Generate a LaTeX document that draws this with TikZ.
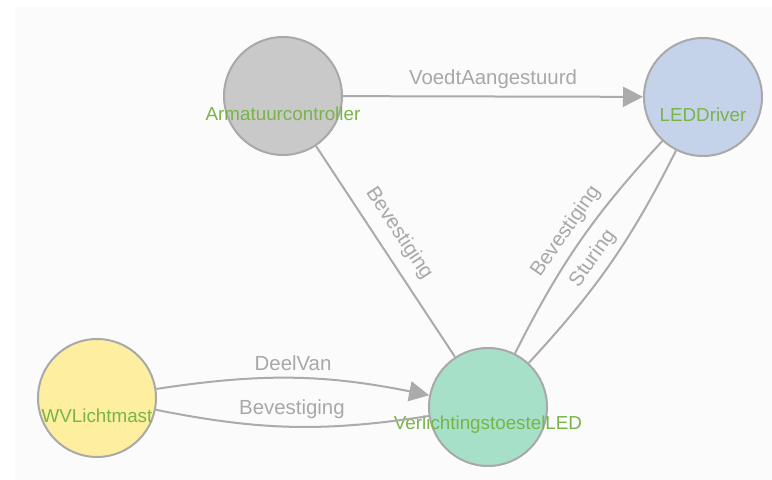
\documentclass[tikz,border=0pt]{standalone}
\usepackage{fontspec}
\setmainfont{Liberation Sans}
\usetikzlibrary{arrows.meta}

\definecolor{panelbg}{HTML}{FBFBFB}
\definecolor{entityline}{HTML}{A9A9A9}
\definecolor{entitytext}{HTML}{79B449}
\definecolor{relline}{HTML}{ABABAB}
\definecolor{reltext}{HTML}{A8A8A8}
\definecolor{armfill}{HTML}{C9C9C9}
\definecolor{ledfill}{HTML}{C5D3EA}
\definecolor{mastfill}{HTML}{FDEEA0}
\definecolor{toestelfill}{HTML}{A6E0C8}

\tikzstyle{entity}=[circle,
    line width=1pt,
    draw=entityline,
    minimum size=59pt,
    inner sep=0pt]
\tikzstyle{entitytext}=[text=entitytext,
    font=\fontsize{9.4}{11}\selectfont,
    yshift=-9pt]
\tikzstyle{relation}=[draw=relline, line width=1pt]
\tikzstyle{reltext}=[text=reltext, font=\fontsize{10.2}{12}\selectfont]
\tikzstyle{head}=[-{Triangle[length=10pt,width=10pt]}]

\begin{document}
\begin{tikzpicture}[x=0.5pt,y=-0.5pt]
    % background panel
    \fill[white] (0,0) rectangle (772,480);
    \fill[panelbg] (15,7) rectangle (772,480);

    % entities
    \node (arm) [entity, fill=armfill,
        label={[entitytext]center:Armatuurcontroller}] at (283,96) {};
    \node (led) [entity, fill=ledfill,
        label={[entitytext]center:LEDDriver}] at (703,97) {};
    \node (mast) [entity, fill=mastfill,
        label={[entitytext]center:WVLichtmast}] at (97,398) {};
    \node (toestel) [entity, fill=toestelfill,
        label={[entitytext]center:VerlichtingstoestelLED}] at (488,407) {};

    % relations
    \draw [relation,head] (arm) -- node[reltext,above] {VoedtAangestuurd} (led);
    \draw [relation] (arm) -- node[reltext,above=2pt,sloped,pos=0.47] {Bevestiging} (toestel);
    \draw [relation] (toestel) to[bend left=8] node[reltext,above,sloped] {Bevestiging} (led);
    \draw [relation] (toestel) to[bend right=8] node[reltext,above,sloped,pos=0.47] {Sturing} (led);
    \draw [relation,head] (mast) to[bend left=10] node[reltext,above] {DeelVan} (toestel);
    \draw [relation] (mast) to[bend right=10] node[reltext,above] {Bevestiging} (toestel);
\end{tikzpicture}
\end{document}
